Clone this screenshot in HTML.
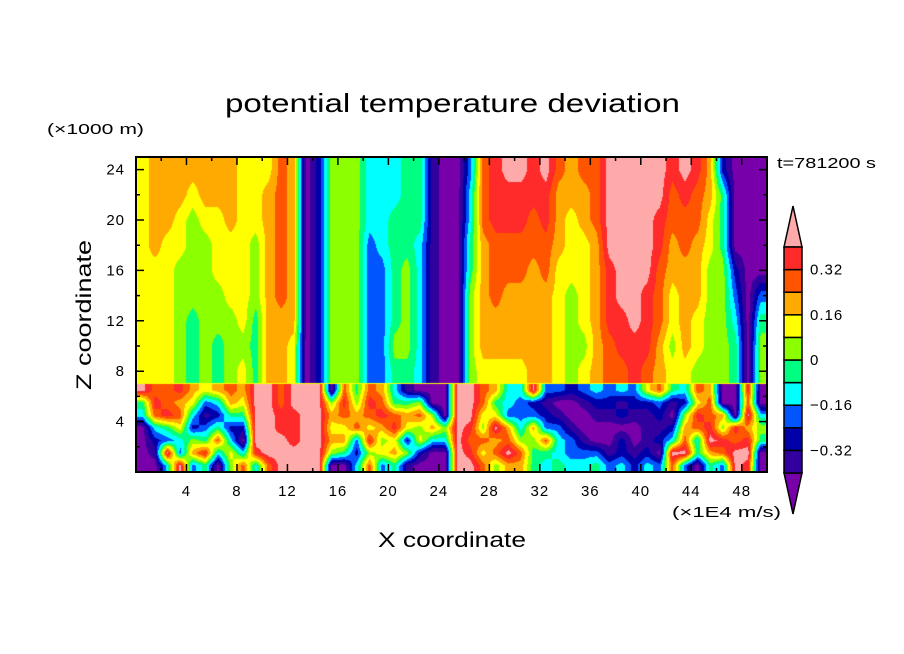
<!DOCTYPE html>
<html><head><meta charset="utf-8"><style>
body{margin:0;background:#fff;width:904px;height:654px;overflow:hidden;position:relative;font-family:"Liberation Sans",sans-serif}
svg{position:absolute;left:0;top:0}
#fld{position:absolute;left:136px;top:157px}
</style></head><body>
<canvas id="fld" width="631" height="315"></canvas>
<svg id="s" width="904" height="654"></svg>
<script>
// level codes 0..11 (0 = below -0.40, 11 = above 0.40), one column per x-unit
const upperZ=[24,22,20,18,16,14,12,10,8];
const upperCols=[
[7,7,7,7,7,7,7,7,7],[8,8,8,8,7,7,7,7,7],[8,8,8,7,7,7,7,7,7],[8,8,7,7,6,6,6,6,6],[8,7,6,6,6,6,5,5,5],
[8,8,7,6,6,6,6,6,6],[8,8,7,7,7,6,6,5,5],[8,8,8,7,7,7,6,6,6],[7,7,7,7,7,7,7,6,7],[7,7,7,6,6,6,5,5,5],
[7,8,8,8,8,8,8,8,8],[9,9,9,9,9,9,8,8,8],[8,8,8,8,8,8,8,7,7],[0,0,0,0,0,0,0,0,0],[2,2,2,2,2,2,2,2,2],
[6,6,6,6,6,6,6,6,6],[6,6,6,6,6,6,6,6,6],[6,6,6,6,6,6,6,6,6],[4,4,4,3,3,3,3,3,3],[4,4,4,4,3,3,3,3,3],
[4,4,5,5,5,5,5,6,5],[5,5,5,5,6,6,6,6,5],[5,5,5,4,4,4,4,4,4],[1,1,1,1,1,1,1,1,1],[0,0,0,0,0,0,0,0,0],
[0,0,0,0,0,0,0,0,0],[3,4,4,5,5,6,6,6,6],[9,9,9,8,8,8,8,8,7],[10,10,10,9,9,9,8,8,7],[11,10,10,9,9,8,8,8,7],
[11,10,10,9,9,8,8,8,7],[10,10,9,9,8,8,8,8,8],[11,10,10,9,9,8,8,8,8],[9,8,8,8,7,7,7,7,7],[8,8,7,7,7,6,6,6,6],
[9,8,8,7,7,7,7,6,7],[9,9,9,8,8,8,8,8,8],[11,11,11,11,10,10,10,9,9],[11,11,11,11,11,11,10,10,9],[11,11,11,11,11,11,11,10,10],
[11,11,11,11,11,10,10,10,9],[11,11,10,10,9,9,9,8,8],[10,9,9,8,8,7,7,6,7],[11,10,9,9,8,8,8,8,7],[10,9,9,8,8,8,7,7,6],
[8,8,7,7,6,6,6,6,6],[2,5,5,5,6,6,6,6,6],[0,0,0,0,2,3,4,5,5],[0,0,0,0,0,0,0,0,0],[0,0,0,0,0,3,5,6,6]];
const lowerZ=[6.5,5.5,4.5,3.5,2.5,1.5,0.5];
const lowerCols=[
[11,5,4,0,0,0,0],[9,10,9,4,2,1,0],[9,9,10,5,3,11,4],[10,8,9,7,4,3,11],[8,7,4,2,6,8,3],
[7,3,1,3,5,10,5],[8,4,2,5,9,4,0],[9,8,5,2,4,7,6],[8,7,5,2,0,4,9],[11,11,11,11,11,10,4],
[11,11,11,11,11,11,9],[9,9,10,10,11,11,11],[11,11,10,10,10,11,11],[11,11,11,11,11,11,11],[11,11,11,11,11,11,11],
[0,6,8,7,8,6,0],[9,10,9,7,8,5,0],[5,6,8,9,3,2,4],[9,10,9,7,10,6,9],[8,9,10,8,6,7,3],
[4,5,9,10,7,8,5],[1,5,8,7,2,6,1],[0,6,9,6,7,2,0],[0,0,6,8,4,0,0],[0,0,0,6,4,0,0],
[11,11,11,11,11,11,11],[11,11,11,10,9,10,11],[9,9,7,6,9,7,9],[8,5,7,11,8,9,6],[4,4,3,8,9,11,8],
[4,3,3,4,6,9,8],[11,2,3,8,6,5,5],[3,1,2,3,9,5,4],[3,0,1,3,4,4,5],[2,0,0,1,3,3,4],
[3,1,0,0,1,3,4],[4,2,1,0,0,3,5],[3,2,1,0,0,1,3],[4,1,2,0,2,2,4],[3,2,1,0,0,1,2],
[7,2,1,1,1,2,4],[9,3,2,1,2,0,3],[5,1,0,2,4,11,9],[4,2,6,8,9,11,3],[9,7,10,9,4,5,0],
[8,9,9,10,11,8,5],[0,0,8,6,10,9,3],[0,0,0,10,9,11,11],[10,9,11,8,10,11,10],[0,0,4,6,5,0,0]];
const colors=['#7700aa','#3300a0','#0000aa','#0055ff','#00ffff','#00ff80','#8cff00','#ffff00','#ffaa00','#ff5500','#ff2a2a','#ffaaaa'];
const thresholds=[-0.4,-0.32,-0.24,-0.16,-0.08,0,0.08,0.16,0.24,0.32,0.4];
const xTicks=[4,8,12,16,20,24,28,32,36,40,44,48];
const yTicks=[4,8,12,16,20,24];
const cbLabels=['0.32','0.16','0','\u22120.16','\u22120.32'];
const cbLabelVals=[0.32,0.16,0,-0.16,-0.32];

const X0=136,X1=767,Y0=472,Y1=157,XMAX=50,ZMAX=25;
const sx=x=>X0+(X1-X0)*x/XMAX, sz=z=>Y0-(Y0-Y1)*z/ZMAX;
const codeVal=k=>-0.44+0.08*k;
function level(v){let c=0;for(const t of thresholds) if(v>=t)c++;return c;}
function sample(cols,zs,x,z){
  let fx=x-0.5;fx=Math.max(0,Math.min(cols.length-1,fx));
  const i0=Math.floor(fx),i1=Math.min(cols.length-1,i0+1),tx=fx-i0;
  let fz=(zs[0]-z)/(zs[0]-zs[1]);fz=Math.max(0,Math.min(zs.length-1,fz));
  const j0=Math.floor(fz),j1=Math.min(zs.length-1,j0+1),tz=fz-j0;
  const a=codeVal(cols[i0][j0])*(1-tx)+codeVal(cols[i1][j0])*tx;
  const b=codeVal(cols[i0][j1])*(1-tx)+codeVal(cols[i1][j1])*tx;
  return a*(1-tz)+b*tz;
}
const cv=document.getElementById('fld'),ctx=cv.getContext('2d');
const W=cv.width,H=cv.height,img=ctx.createImageData(W,H);
const rgb=colors.map(c=>[parseInt(c.slice(1,3),16),parseInt(c.slice(3,5),16),parseInt(c.slice(5,7),16)]);
for(let py=0;py<H;py++){const z=(Y0-(Y1+py+0.5))/(Y0-Y1)*ZMAX;
 for(let px=0;px<W;px++){const x=(px+0.5)/(X1-X0)*XMAX;
  let v;
  if(Math.abs(z-7)<0.05) v=0.12;
  else v= z>7?sample(upperCols,upperZ,x,z):sample(lowerCols,lowerZ,x,z);
  const c=rgb[level(v)],o=(py*W+px)*4;img.data[o]=c[0];img.data[o+1]=c[1];img.data[o+2]=c[2];img.data[o+3]=255;}}
ctx.putImageData(img,0,0);

const NS='http://www.w3.org/2000/svg',s=document.getElementById('s');
function el(t,a,txt){const e=document.createElementNS(NS,t);for(const k in a)e.setAttribute(k,a[k]);if(txt!==undefined)e.textContent=txt;s.appendChild(e);return e;}
let e;
e=el('rect',{x:X0,y:Y1,width:X1-X0,height:Y0-Y1,fill:'none',stroke:'#000','stroke-width':2});


for(let v=2;v<XMAX;v+=2){const L=v%4===0?8:4;
 e=el('path',{d:`M${sx(v)},${Y0}v${-L}M${sx(v)},${Y1}v${L}`,stroke:'#000','stroke-width':1.5});
 
 }
for(let v=2;v<ZMAX;v+=2){const L=v%4===0?8:4;
 e=el('path',{d:`M${X0},${sz(v)}h${L}M${X1},${sz(v)}h${-L}`,stroke:'#000','stroke-width':1.5});
 
 }
xTicks.forEach(v=>{e=el('text',{x:sx(v),y:496,'text-anchor':'middle','font-size':15,'letter-spacing':1},String(v));
 
 });
yTicks.forEach(v=>{e=el('text',{x:125,y:sz(v)+5,'text-anchor':'end','font-size':15,'letter-spacing':1},String(v));
 
 });
e=el('text',{x:225,y:112,'font-size':26,textLength:455,lengthAdjust:'spacingAndGlyphs'},'potential temperature deviation');


e=el('text',{x:378,y:547,'font-size':21,textLength:148,lengthAdjust:'spacingAndGlyphs'},'X coordinate');


e=el('text',{x:91,y:315,'text-anchor':'middle','font-size':21,textLength:150,lengthAdjust:'spacingAndGlyphs',transform:'rotate(-90 91 315)'},'Z coordinate');


e=el('text',{x:47,y:134,'font-size':15,textLength:97,lengthAdjust:'spacingAndGlyphs'},'(\u00d71000 m)');


e=el('text',{x:672,y:517,'font-size':15,textLength:109,lengthAdjust:'spacingAndGlyphs'},'(\u00d71E4 m/s)');


e=el('text',{x:777,y:168,'font-size':15,textLength:99,lengthAdjust:'spacingAndGlyphs'},'t=781200 s');


// colorbar
const CBX=784,CBW=18,CBT=247,CBB=473,nb=thresholds.length-1,bh=(CBB-CBT)/nb;
const cbY=v=>CBB-(v-thresholds[0])/(thresholds[nb]-thresholds[0])*(CBB-CBT);
e=el('path',{d:`M${CBX},${CBT}L${CBX+CBW/2},206L${CBX+CBW},${CBT}Z`,fill:colors[11],stroke:'#000','stroke-width':1.5});


e=el('path',{d:`M${CBX},${CBB}L${CBX+CBW/2},514L${CBX+CBW},${CBB}Z`,fill:colors[0],stroke:'#000','stroke-width':1.5});


for(let i=0;i<nb;i++){
 e=el('rect',{x:CBX,y:cbY(thresholds[i+1]),width:CBW,height:bh,fill:colors[i+1],stroke:'#000','stroke-width':1.5});
 
 }
cbLabels.forEach((t,i)=>{e=el('text',{x:810,y:cbY(cbLabelVals[i])+5,'font-size':15,'letter-spacing':1},t);
 
 });
</script>
</body></html>
